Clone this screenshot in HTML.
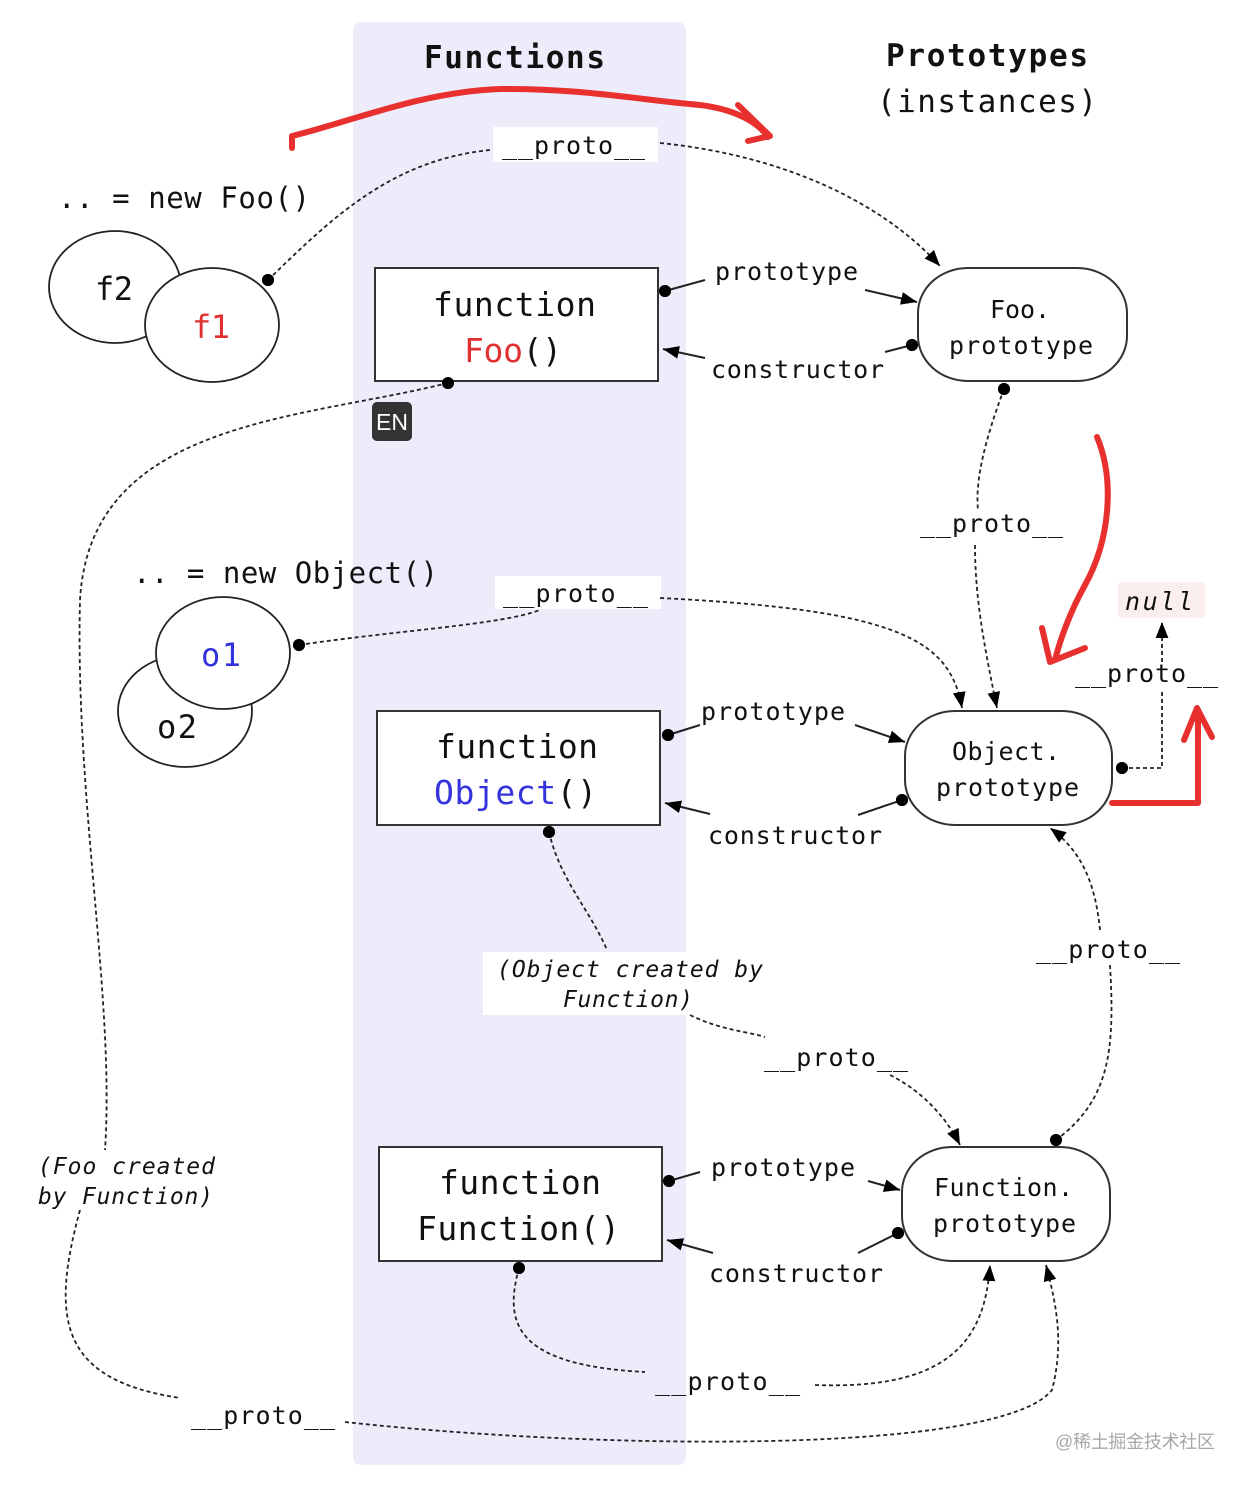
<!DOCTYPE html>
<html><head><meta charset="utf-8"><style>
html,body{margin:0;padding:0;background:#fff}
svg{display:block}
text{font-family:"DejaVu Sans Mono","Liberation Mono",monospace;fill:#111}
.lb{font-size:25px}
.it{font-style:italic}
</style></head><body>
<svg width="1252" height="1488" viewBox="0 0 1252 1488" xmlns="http://www.w3.org/2000/svg">
<defs>
<marker id="a" viewBox="0 0 10 10" refX="10" refY="5" markerWidth="9" markerHeight="9" markerUnits="userSpaceOnUse" orient="auto"><path d="M0,0 L10,5 L0,10 z" fill="#000"/></marker>
<marker id="ab" viewBox="0 0 10 10" refX="10" refY="5" markerWidth="16" markerHeight="16" markerUnits="userSpaceOnUse" orient="auto"><path d="M0,1 L10,5 L0,9 z" fill="#000"/></marker>
</defs>
<rect x="353" y="22" width="333" height="1443" rx="8" fill="#ececfa"/>

<text x="424" y="68" font-size="31" font-weight="bold" textLength="181">Functions</text>
<text x="886" y="66" font-size="31" font-weight="bold" textLength="202">Prototypes</text>
<text x="877" y="112" font-size="31" textLength="220">(instances)</text>

<!-- label backgrounds -->
<rect x="493" y="127" width="165" height="35" fill="#fff"/>
<rect x="495" y="576" width="166" height="33" fill="#fff"/>
<rect x="483" y="952" width="217" height="63" fill="#fff"/>
<rect x="1118" y="582" width="87" height="36" rx="3" fill="#fbeeee"/>

<g fill="none" stroke="#222" stroke-width="1.8" stroke-dasharray="4,3">
<path d="M268,280 C330,220 390,160 490,150"/>
<path d="M660,143 C780,155 880,200 940,266" marker-end="url(#ab)"/>
<path d="M1004,389 C985,440 975,480 978,510"/>
<path d="M975,545 C975,600 985,650 997,708" marker-end="url(#ab)"/>
<path d="M448,383 C300,420 90,420 80,600 C75,800 115,1000 105,1150"/>
<path d="M80,1210 C50,1320 60,1380 180,1398"/>
<path d="M345,1422 C600,1450 1000,1455 1052,1390 C1065,1340 1055,1300 1046,1265" marker-end="url(#ab)"/>
<path d="M299,645 C400,630 500,625 540,610"/>
<path d="M660,598 C900,610 950,640 962,708" marker-end="url(#ab)"/>
<path d="M1122,768 L1162,768 L1162,692"/>
<path d="M1162,662 L1162,622" marker-end="url(#ab)"/>
<path d="M549,832 C560,880 590,910 607,950"/>
<path d="M690,1015 C720,1030 750,1032 765,1037"/>
<path d="M890,1075 C920,1090 945,1115 960,1145" marker-end="url(#ab)"/>
<path d="M1100,930 C1095,880 1080,850 1050,828" marker-end="url(#ab)"/>
<path d="M1110,965 C1115,1050 1110,1100 1056,1140"/>
<path d="M519,1268 C505,1320 510,1365 645,1372"/>
<path d="M815,1385 C950,1390 985,1340 990,1265" marker-end="url(#ab)"/>
</g>
<g fill="none" stroke="#222" stroke-width="2">
<path d="M665,291 L705,280"/><path d="M865,290 L917,302" marker-end="url(#ab)"/>
<path d="M912,345 L885,352"/><path d="M705,358 L663,349" marker-end="url(#ab)"/>
<path d="M668,735 L700,725"/><path d="M855,725 L905,742" marker-end="url(#ab)"/>
<path d="M902,800 L858,815"/><path d="M710,814 L665,803" marker-end="url(#ab)"/>
<path d="M669,1181 L700,1172"/><path d="M868,1181 L900,1190" marker-end="url(#ab)"/>
<path d="M898,1233 L858,1253"/><path d="M713,1253 L667,1240" marker-end="url(#ab)"/>
</g>
<g fill="#000">
<circle cx="268" cy="280" r="6"/><circle cx="665" cy="291" r="6"/><circle cx="912" cy="345" r="6"/>
<circle cx="1004" cy="389" r="6"/><circle cx="448" cy="383" r="6"/><circle cx="299" cy="645" r="6"/>
<circle cx="668" cy="735" r="6"/><circle cx="902" cy="800" r="6"/><circle cx="1122" cy="768" r="6"/>
<circle cx="549" cy="832" r="6"/><circle cx="1056" cy="1140" r="6"/><circle cx="669" cy="1181" r="6"/>
<circle cx="898" cy="1233" r="6"/><circle cx="519" cy="1268" r="6"/>
</g>

<!-- circles -->
<g fill="#fff" stroke="#222" stroke-width="1.8">
<ellipse cx="115" cy="287" rx="66" ry="56"/>
<ellipse cx="212" cy="325" rx="67" ry="57"/>
<ellipse cx="185" cy="711" rx="67" ry="56"/>
<ellipse cx="223" cy="653" rx="67" ry="56"/>
</g>
<circle cx="268" cy="280" r="6"/><circle cx="299" cy="645" r="6"/>

<!-- boxes -->
<g fill="#fff" stroke="#333" stroke-width="2">
<rect x="375" y="268" width="283" height="113"/>
<rect x="377" y="711" width="283" height="114"/>
<rect x="379" y="1147" width="283" height="114"/>
<rect x="918" y="268" width="209" height="113" rx="50" ry="45"/>
<rect x="905" y="711" width="207" height="114" rx="50" ry="45"/>
<rect x="902" y="1147" width="208" height="114" rx="50" ry="45"/>
</g>
<g fill="#000">
<circle cx="665" cy="291" r="6"/><circle cx="448" cy="383" r="6"/><circle cx="912" cy="345" r="6"/><circle cx="1004" cy="389" r="6"/>
<circle cx="668" cy="735" r="6"/><circle cx="549" cy="832" r="6"/><circle cx="902" cy="800" r="6"/><circle cx="1122" cy="768" r="6"/>
<circle cx="669" cy="1181" r="6"/><circle cx="519" cy="1268" r="6"/><circle cx="898" cy="1233" r="6"/><circle cx="1056" cy="1140" r="6"/>
</g>

<text x="58" y="208" font-size="29" textLength="252">.. = new Foo()</text>
<text x="95" y="300" font-size="32" textLength="38">f2</text>
<text x="192" y="338" font-size="32" textLength="38" style="fill:#e03030">f1</text>
<text x="433" y="316" font-size="33" textLength="163">function</text>
<text x="464" y="362" font-size="33" textLength="98"><tspan style="fill:#e03030">Foo</tspan>()</text>
<text x="990" y="318" class="lb" textLength="60">Foo.</text>
<text x="949" y="354" class="lb" textLength="144">prototype</text>
<text x="502" y="154" class="lb" textLength="143">__proto__</text>
<text x="715" y="280" class="lb" textLength="143">prototype</text>
<text x="711" y="378" class="lb" textLength="173">constructor</text>
<text x="920" y="532" class="lb" textLength="143">__proto__</text>

<rect x="372" y="402" width="40" height="39" rx="5" fill="#333"/>
<text x="376" y="430" font-family="Liberation Sans,sans-serif" font-size="23" style="fill:#fff;font-family:'Liberation Sans',sans-serif" textLength="32">EN</text>

<text x="133" y="583" font-size="29" textLength="305">.. = new Object()</text>
<text x="503" y="602" class="lb" textLength="145">__proto__</text>
<text x="1125" y="610" class="lb it" textLength="68">null</text>
<text x="1075" y="682" class="lb" textLength="143">__proto__</text>
<text x="201" y="666" font-size="32" textLength="40" style="fill:#3333dd">o1</text>
<text x="157" y="738" font-size="32" textLength="40">o2</text>
<text x="436" y="758" font-size="33" textLength="162">function</text>
<text x="434" y="804" font-size="33" textLength="163"><tspan style="fill:#3333dd">Object</tspan>()</text>
<text x="701" y="720" class="lb" textLength="144">prototype</text>
<text x="708" y="844" class="lb" textLength="174">constructor</text>
<text x="952" y="760" class="lb" textLength="108">Object.</text>
<text x="936" y="796" class="lb" textLength="143">prototype</text>

<text x="497" y="977" font-size="23" class="it" textLength="266">(Object created by</text>
<text x="563" y="1007" font-size="23" class="it" textLength="130">Function)</text>
<text x="1036" y="958" class="lb" textLength="144">__proto__</text>
<text x="764" y="1066" class="lb" textLength="144">__proto__</text>
<text x="38" y="1174" font-size="23" class="it" textLength="177">(Foo created</text>
<text x="38" y="1204" font-size="23" class="it" textLength="175">by Function)</text>

<text x="439" y="1194" font-size="33" textLength="162">function</text>
<text x="417" y="1240" font-size="33" textLength="203">Function()</text>
<text x="711" y="1176" class="lb" textLength="144">prototype</text>
<text x="709" y="1282" class="lb" textLength="174">constructor</text>
<text x="934" y="1196" class="lb" textLength="139">Function.</text>
<text x="933" y="1232" class="lb" textLength="143">prototype</text>
<text x="655" y="1390" class="lb" textLength="145">__proto__</text>
<text x="191" y="1424" class="lb" textLength="144">__proto__</text>
<text x="1055" y="1448" font-size="18" style="fill:#a8a8a8;font-family:'Liberation Sans','Noto Sans CJK SC',sans-serif" textLength="160">@稀土掘金技术社区</text>

<!-- red annotations -->
<g fill="none" stroke="#e8302f" stroke-width="6" stroke-linecap="round" stroke-linejoin="round">
<path d="M292,148 L292,136 C350,122 420,92 500,89 C580,88 640,100 700,105 C740,110 760,125 768,137"/>
<path d="M738,105 L770,136 L748,141"/>
<path d="M1097,437 C1115,480 1110,540 1085,585 C1070,612 1060,640 1055,660"/>
<path d="M1042,628 L1050,662 L1085,648"/>
<path d="M1112,803 L1198,803 L1198,712"/>
<path d="M1184,740 L1197,708 L1212,737"/>
</g>
</svg>
</body></html>
